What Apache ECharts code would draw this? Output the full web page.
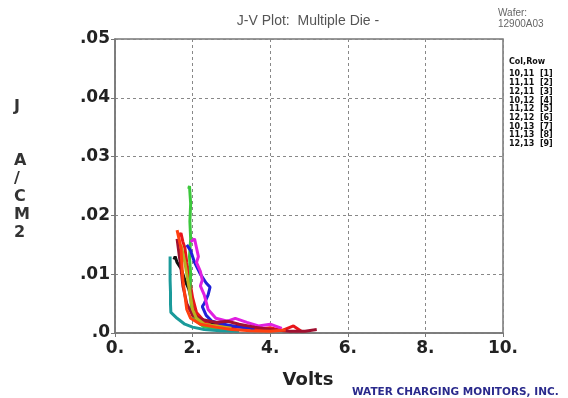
<!DOCTYPE html>
<html>
<head>
<meta charset="utf-8">
<script src="https://cdn.jsdelivr.net/npm/echarts@6/dist/echarts.min.js"></script>
<style>
  html, body { margin: 0; padding: 0; background: #fff; }
  #chart { width: 568px; height: 398px; }
</style>
</head>
<body>
<div id="chart"></div>
<script>
// tick labels as printed on the plot
const xTickLabels = ['0.', '2.', '4.', '6.', '8.', '10.'];
const yTickLabels = ['.0', '.01', '.02', '.03', '.04', '.05'];

// die legend (col,row [n])
const dieLabels = ['10,11  [1]', '11,11  [2]', '12,11  [3]', '10,12  [4]', '11,12  [5]',
  '12,12  [6]', '10,13  [7]', '11,13  [8]', '12,13  [9]'];
const dieColors = ['#111111', '#e8141a', '#3cc83c', '#2020d8', '#e020e0',
  '#1a9a9a', '#a01030', '#b8b020', '#ff4010'];

// [volts, J]
const die1 = [[1.52,0.0125],[1.55,0.013],[1.6,0.012],[1.7,0.011],[1.8,0.009],[1.9,0.0075],[2.0,0.005],
  [2.1,0.003],[2.3,0.002],[2.6,0.0015],[3.0,0.0012],[3.3,0.001],[3.6,0.0008]];
const die2 = [[1.65,0.0165],[1.7,0.017],[1.75,0.0155],[1.8,0.0145],[1.85,0.012],[1.9,0.01],[2.0,0.006],
  [2.1,0.0035],[2.3,0.002],[2.5,0.0012],[2.8,0.0015],[3.0,0.0008],[3.3,0.0012],[3.6,0.0006],
  [4.0,0.0009],[4.3,0.0004],[4.6,0.0012],[4.8,0.0003]];
const die3 = [[1.9,0.0245],[1.92,0.025],[1.95,0.022],[1.93,0.019],[1.95,0.016],[1.92,0.013],[1.95,0.01],
  [1.93,0.007],[1.96,0.005],[2.0,0.003],[2.1,0.002],[2.3,0.001],[2.6,0.0008],[3.0,0.0005]];
const die4 = [[1.85,0.015],[1.95,0.014],[2.05,0.012],[2.2,0.01],[2.35,0.0085],[2.45,0.0078],[2.4,0.0065],
  [2.3,0.005],[2.25,0.0045],[2.35,0.003],[2.5,0.002],[2.8,0.0015],[3.2,0.001],[3.6,0.0007]];
const die5 = [[1.95,0.0155],[2.05,0.016],[2.1,0.0145],[2.15,0.013],[2.1,0.012],[2.2,0.0105],[2.25,0.009],
  [2.2,0.008],[2.3,0.0065],[2.4,0.004],[2.6,0.0025],[2.9,0.002],[3.1,0.0025],[3.4,0.0018],
  [3.7,0.0012],[4.0,0.0015],[4.3,0.0008]];
const die6 = [[1.42,0.013],[1.42,0.011],[1.42,0.009],[1.43,0.007],[1.43,0.005],[1.44,0.0035],[1.6,0.0025],
  [1.8,0.0015],[2.0,0.001],[2.3,0.0006],[2.7,0.0004],[3.2,0.0003]];
const die7 = [[1.6,0.016],[1.65,0.0135],[1.7,0.011],[1.75,0.008],[1.85,0.005],[2.0,0.003],[2.3,0.0022],
  [2.6,0.0018],[2.9,0.002],[3.2,0.0015],[3.6,0.001],[4.0,0.0006],[4.5,0.0003],[4.9,0.0003],[5.2,0.0006]];
const die8 = [[1.7,0.015],[1.75,0.0135],[1.8,0.012],[1.85,0.01],[1.9,0.008],[1.95,0.006],[2.0,0.004],
  [2.1,0.0025],[2.3,0.0015],[2.6,0.0012],[3.0,0.0008]];
const die9 = [[1.6,0.0175],[1.65,0.016],[1.7,0.0145],[1.72,0.012],[1.75,0.009],[1.8,0.0065],[1.85,0.004],
  [1.95,0.0025],[2.2,0.0015],[2.6,0.001],[3.0,0.0006],[3.5,0.0004],[4.0,0.0003],[4.4,0.0005]];
const dies = [die1, die2, die3, die4, die5, die6, die7, die8, die9];

const chart = echarts.init(document.getElementById('chart'));
const bigFont = 'DejaVu Sans';

chart.setOption({
  animation: false,
  grid: {
    left: 115, right: 65, top: 39, bottom: 65,
    show: true, borderColor: '#777', borderWidth: 1.5
  },
  title: [
    { text: 'J-V Plot:  Multiple Die -', left: 308, top: 14, padding: 0, textAlign: 'center',
      textStyle: { fontFamily: 'Liberation Sans', fontSize: 14, fontWeight: 'normal', color: '#555' } },
    { text: 'Wafer:\n12900A03', left: 498, top: 8, padding: 0,
      textStyle: { fontFamily: 'Liberation Sans', fontSize: 10, fontWeight: 'normal', color: '#666', lineHeight: 11 } },
    { text: 'Col,Row', left: 509, top: 58, padding: 0,
      textStyle: { fontFamily: bigFont, fontSize: 8, fontWeight: 'bold', color: '#111' } },
    { text: dieLabels.join('\n'), left: 509, top: 70, padding: 0,
      textStyle: { fontFamily: bigFont, fontSize: 8, fontWeight: 'bold', color: '#111', lineHeight: 8.7 } },
    { text: 'Volts', left: 308, top: 371, padding: 0, textAlign: 'center',
      textStyle: { fontFamily: bigFont, fontSize: 18, fontWeight: 'bold', color: '#222' } },
    { text: 'WATER CHARGING MONITORS, INC.', left: 352, top: 387, padding: 0,
      textStyle: { fontFamily: bigFont, fontSize: 10.5, fontWeight: 'bold', color: '#2a2a8c' } }
  ],
  graphic: [
    { type: 'text', left: 14, top: 98,
      style: { text: 'J\n\n\nA\n/\nC\nM\n2', font: 'bold 16px "DejaVu Sans"', fill: '#333',
        lineHeight: 18, align: 'center' } }
  ],
  xAxis: {
    type: 'value', min: 0, max: 10, interval: 2,
    axisLine: { lineStyle: { color: '#777', width: 1.5 } },
    axisTick: { show: true, inside: false, length: 4, lineStyle: { color: '#777' } },
    splitLine: { lineStyle: { color: '#888', type: [3, 3], width: 1 } },
    axisLabel: {
      margin: 7, fontFamily: bigFont, fontSize: 17, fontWeight: 'bold', color: '#222',
      formatter: (v) => xTickLabels[Math.round(v / 2)]
    }
  },
  yAxis: {
    type: 'value', min: 0, max: 0.05, interval: 0.01,
    axisLine: { show: true, lineStyle: { color: '#777', width: 1.5 } },
    axisTick: { show: true, length: 4, lineStyle: { color: '#777' } },
    splitLine: { lineStyle: { color: '#888', type: [3, 3], width: 1 } },
    axisLabel: {
      margin: 5, fontFamily: bigFont, fontSize: 17, fontWeight: 'bold', color: '#222',
      formatter: (v) => yTickLabels[Math.round(v * 100)]
    }
  },
  series: dies.map((d, i) => ({
    name: dieLabels[i],
    type: 'line',
    data: d,
    showSymbol: false,
    lineStyle: { color: dieColors[i], width: 3 },
    itemStyle: { color: dieColors[i] }
  }))
});
</script>
</body>
</html>
